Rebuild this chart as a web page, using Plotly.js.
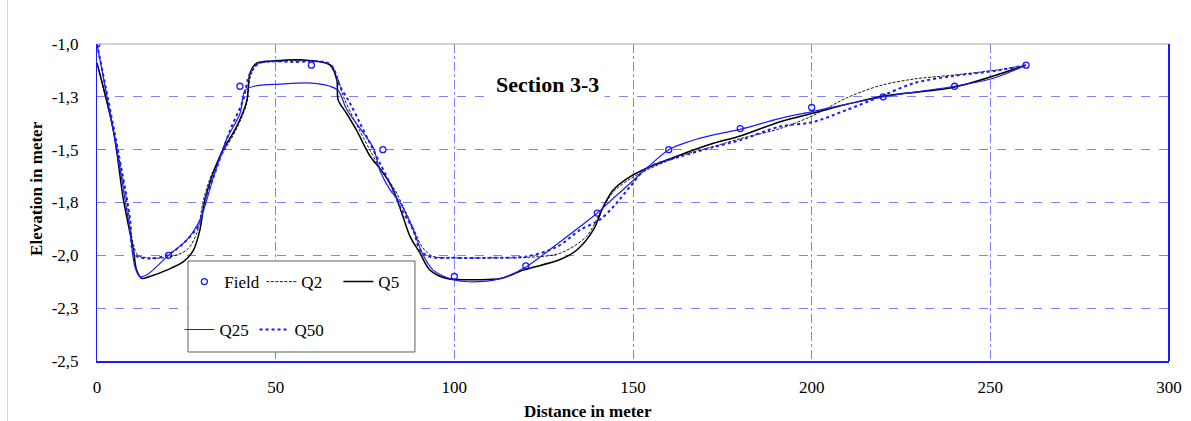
<!DOCTYPE html>
<html>
<head>
<meta charset="utf-8">
<script src="https://cdn.plot.ly/plotly-3.0.1.min.js"></script>
<style>html,body{margin:0;padding:0;background:#fff;}#chart{width:1191px;height:421px;}</style>
</head>
<body>
<div id="chart"></div>
<script>
// Field observations
const fieldX = [0, 20, 40, 60, 80, 100, 120, 140, 160, 180, 200, 220, 240, 260];
const fieldY = [-1.0, -2.0, -1.20, -1.10, -1.50, -2.10, -2.05, -1.80, -1.50, -1.40, -1.30, -1.25, -1.20, -1.10];

// Q2
const q2X = [0, 4.6, 8.3, 10.2, 11.5, 14.5, 19.5, 25.1, 27.9, 29.8, 32, 34.4, 39.1, 41.9, 43, 45, 50, 57, 65.2, 67.3, 69, 72, 76, 80, 83, 86, 88.5, 91, 94, 100, 110, 120, 129.6, 137, 140.8, 144.5, 149.5, 154, 163.2, 172.5, 180, 191.2, 200.2, 209.8, 219.1, 228.5, 239.7, 251.8, 260];
const q2Y = [-1.09, -1.41, -1.74, -1.95, -2.0, -2.012, -2.01, -1.975, -1.896, -1.738, -1.62, -1.54, -1.40, -1.28, -1.15, -1.095, -1.083, -1.08, -1.095, -1.16, -1.25, -1.36, -1.49, -1.61, -1.68, -1.78, -1.87, -1.96, -2.005, -2.012, -2.012, -2.01, -1.99, -1.91, -1.80, -1.70, -1.635, -1.595, -1.53, -1.485, -1.448, -1.40, -1.34, -1.255, -1.197, -1.166, -1.147, -1.123, -1.10];

// Q5
const q5X = [0, 4.6, 7.4, 10.2, 11.1, 12.5, 14.8, 19.5, 24.2, 27, 28.8, 30.2, 34.4, 39.1, 41.9, 42.8, 44.7, 49.3, 57, 65.2, 67.1, 67.5, 69.9, 72.7, 76.4, 80.1, 82.9, 85.7, 87.6, 90.4, 93.2, 97.9, 105, 113, 119.3, 129.6, 134.3, 138.9, 141.7, 144.5, 149.2, 153.8, 163.2, 172.5, 180, 191.2, 200.2, 219.1, 239.7, 260];
const q5Y = [-1.09, -1.41, -1.738, -1.975, -2.07, -2.109, -2.10, -2.07, -2.03, -1.975, -1.88, -1.738, -1.53, -1.39, -1.27, -1.14, -1.09, -1.08, -1.075, -1.1, -1.17, -1.265, -1.33, -1.41, -1.53, -1.61, -1.69, -1.82, -1.91, -1.99, -2.07, -2.11, -2.115, -2.11, -2.07, -2.02, -1.975, -1.88, -1.77, -1.69, -1.628, -1.588, -1.525, -1.47, -1.435, -1.368, -1.328, -1.249, -1.205, -1.10];

// Q25
const q25X = [0, 2.8, 5.5, 9.2, 10.6, 12, 13.9, 20, 25.1, 28.8, 30.7, 32.6, 36.3, 40, 41.4, 44, 51.2, 60, 65.2, 67.5, 69.9, 74.5, 77.3, 79.2, 82, 84.8, 88.5, 91.3, 94.1, 99.7, 104, 112.8, 120, 129.6, 140, 144.5, 149.2, 153.8, 160, 166, 172.5, 180, 191.2, 200.2, 220, 240, 250.9, 260];
const q25Y = [-1.0, -1.25, -1.5, -1.88, -2.054, -2.10, -2.093, -2.0, -1.928, -1.833, -1.738, -1.63, -1.45, -1.33, -1.22, -1.2, -1.19, -1.185, -1.2, -1.22, -1.31, -1.42, -1.49, -1.6, -1.69, -1.75, -1.88, -2.0, -2.07, -2.115, -2.125, -2.11, -2.055, -1.936, -1.80, -1.73, -1.659, -1.588, -1.50, -1.46, -1.43, -1.404, -1.352, -1.32, -1.25, -1.20, -1.162, -1.10];

// Q50
const q50X = [0, 5.5, 9.2, 10.2, 12, 15.7, 19.5, 24.2, 28.8, 30.2, 32.6, 37.2, 40.9, 42.8, 45.6, 55, 65.2, 68, 70.8, 73.6, 76.4, 79.2, 82, 84.8, 88.5, 90.4, 93.2, 100, 110, 120.2, 128.7, 135.2, 140.8, 144.5, 149.2, 153.8, 163.2, 172.5, 180, 191.2, 200.2, 209.8, 219.1, 228.5, 239.7, 251.8, 260];
const q50Y = [-1.0, -1.47, -1.82, -1.99, -2.01, -2.014, -2.0, -1.943, -1.849, -1.738, -1.63, -1.41, -1.265, -1.14, -1.09, -1.085, -1.095, -1.20, -1.28, -1.375, -1.47, -1.565, -1.66, -1.77, -1.88, -1.975, -2.007, -2.012, -2.012, -2.005, -1.96, -1.88, -1.83, -1.77, -1.675, -1.588, -1.533, -1.488, -1.455, -1.39, -1.37, -1.312, -1.25, -1.186, -1.151, -1.126, -1.10];

// Axis ticks
const xTicks = [0, 50, 100, 150, 200, 250, 300];
const yTicks = [-1.0, -1.25, -1.5, -1.75, -2.0, -2.25, -2.5];
const yTickText = ['-1,0', '-1,3', '-1,5', '-1,8', '-2,0', '-2,3', '-2,5'];

const FONT = 'Liberation Serif, Times New Roman, serif';
const BLUE = '#1a1aff';
const GRID = '#8080ff';

const traces = [
  {x: fieldX, y: fieldY, name: 'Field', mode: 'markers', type: 'scatter',
   marker: {symbol: 'circle-open', size: 6, color: BLUE, line: {width: 1.3, color: BLUE}}, legend: 'legend'},
  {x: q2X, y: q2Y, name: 'Q2', mode: 'lines', type: 'scatter',
   line: {color: '#000', width: 0.9, dash: '3px,1.5px', shape: 'spline', smoothing: 0.9}, legend: 'legend'},
  {x: q5X, y: q5Y, name: 'Q5', mode: 'lines', type: 'scatter',
   line: {color: '#000', width: 1.5, shape: 'spline', smoothing: 0.9}, legend: 'legend'},
  {x: q25X, y: q25Y, name: 'Q25', mode: 'lines', type: 'scatter',
   line: {color: BLUE, width: 1.2, shape: 'spline', smoothing: 0.9}, legend: 'legend2'},
  {x: q50X, y: q50Y, name: 'Q50', mode: 'lines', type: 'scatter',
   line: {color: BLUE, width: 2, dash: 'dot', shape: 'spline', smoothing: 0.9}, legend: 'legend2'}
];

const legendCommon = {
  orientation: 'h', xanchor: 'left', yanchor: 'middle',
  bgcolor: 'rgba(0,0,0,0)', borderwidth: 0,
  font: {family: FONT, size: 17, color: '#000'},
  entrywidthmode: 'pixels', tracegroupgap: 0
};

const layout = {
  width: 1191, height: 421,
  margin: {l: 97, r: 22, t: 44, b: 60, pad: 0},
  paper_bgcolor: '#fff', plot_bgcolor: '#fff',
  font: {family: FONT, size: 16, color: '#000'},
  showlegend: true,
  legend: Object.assign({}, legendCommon, {x: 0.0815, y: 0.249, entrywidth: 32}),
  legend2: Object.assign({}, legendCommon, {x: 0.077, y: 0.098, entrywidth: 30}),
  xaxis: {
    range: [0, 300], tickvals: xTicks, ticks: '', ticklabelstandoff: 10,
    showgrid: true, gridcolor: GRID, gridwidth: 1, griddash: 'dashdot',
    showline: true, linecolor: BLUE, linewidth: 2, zeroline: false,
    tickfont: {family: FONT, size: 17, color: '#000'}, fixedrange: true
  },
  yaxis: {
    range: [-2.5, -1.0], tickvals: yTicks, ticktext: yTickText, ticks: '', ticklabelstandoff: 14,
    showgrid: true, gridcolor: GRID, gridwidth: 1, griddash: 'dash',
    showline: true, linecolor: BLUE, linewidth: 1, zeroline: false,
    tickfont: {family: FONT, size: 17, color: '#000'}, fixedrange: true
  },
  shapes: [
    // legend box
    {type: 'rect', xref: 'paper', yref: 'paper', x0: 0.0849, x1: 0.2966, y0: 0.0284, y1: 0.3155,
     line: {color: '#606060', width: 1}, fillcolor: '#fff', layer: 'above'},
    // top border
    {type: 'line', xref: 'paper', yref: 'paper', x0: 0, x1: 1, y0: 1, y1: 1,
     line: {color: '#a6a6a6', width: 1}, layer: 'above'},
    // right border
    {type: 'line', xref: 'paper', yref: 'paper', x0: 1, x1: 1, y0: 0, y1: 1,
     line: {color: BLUE, width: 2}, layer: 'above'},
    // chart outer border (left edge)
    {type: 'line', xref: 'paper', yref: 'paper', x0: -0.0835, x1: -0.0835, y0: -0.2, y1: 1.14,
     line: {color: '#d9d9d9', width: 1}, layer: 'above'}
  ],
  annotations: [
    {text: '<b>Section 3-3</b>', x: 126.2, y: -1.19, xref: 'x', yref: 'y', showarrow: false,
     xanchor: 'center', yanchor: 'middle',
     font: {family: FONT, size: 22, color: '#000'}, bgcolor: '#fff', borderpad: 5},
    {text: '<b>Elevation in meter</b>', xref: 'paper', yref: 'paper', x: -0.056, y: 0.546,
     xanchor: 'center', yanchor: 'middle',
     textangle: -90, showarrow: false, font: {family: FONT, size: 17, color: '#000'}},
    {text: '<b>Distance in meter</b>', xref: 'paper', yref: 'paper', x: 0.458, y: -0.158,
     xanchor: 'center', yanchor: 'middle',
     showarrow: false, font: {family: FONT, size: 17, color: '#000'}}
  ]
};

Plotly.newPlot('chart', traces, layout, {displayModeBar: false, staticPlot: true});
</script>
</body>
</html>
